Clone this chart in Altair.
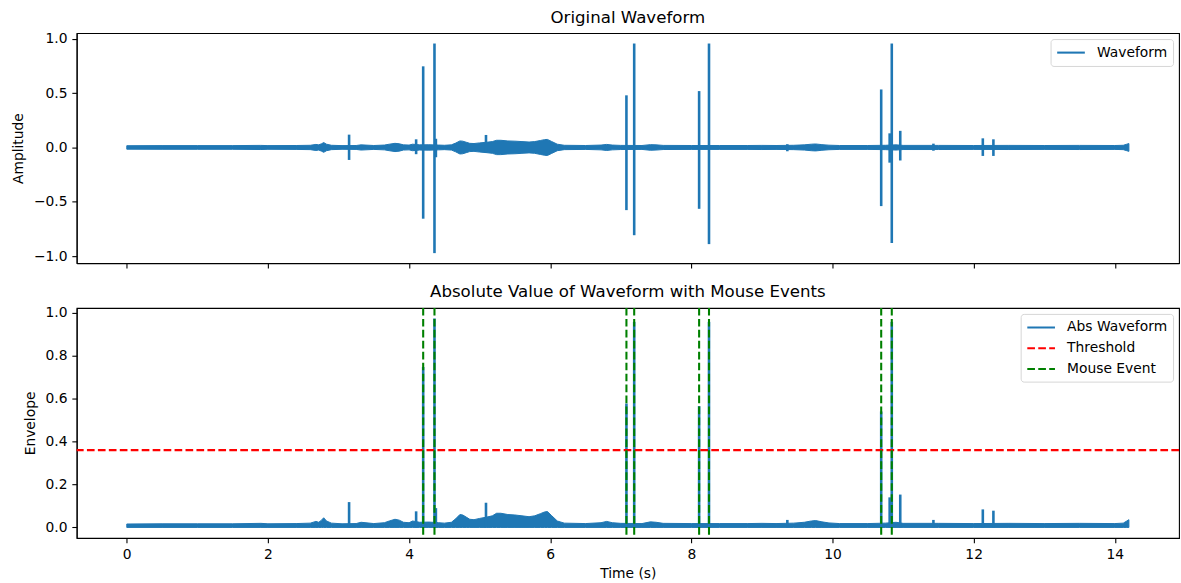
import altair as alt
import pandas as pd

BLUE = "#1f77b4"
FONT = "DejaVu Sans"

# background envelope of the recording: time (s) and half-width of the noise band
env_t = [0.00, 0.50, 1.00, 1.50, 1.90, 2.00, 2.40, 2.60, 2.68, 2.72,
         2.76, 2.79, 2.83, 2.90, 3.05, 3.25, 3.32, 3.50, 3.65, 3.72,
         3.80, 3.86, 3.92, 4.00, 4.05, 4.15, 4.28, 4.42, 4.50, 4.60,
         4.66, 4.72, 4.76, 4.81, 4.86, 4.92, 5.00, 5.10, 5.18, 5.24,
         5.30, 5.40, 5.50, 5.60, 5.70, 5.78, 5.86, 5.92, 5.96, 6.02,
         6.10, 6.20, 6.50, 6.72, 6.80, 6.88, 7.00, 7.30, 7.42, 7.50,
         7.60, 8.00, 8.40, 8.80, 9.00, 9.20, 9.45, 9.60, 9.70, 9.76,
         9.85, 9.95, 10.10, 10.50, 10.75, 10.90, 11.00, 11.50, 12.00, 12.50,
         13.00, 13.50, 14.00, 14.12, 14.17, 14.20]
env_a = [0.016, 0.017, 0.017, 0.017, 0.019, 0.017, 0.018, 0.020, 0.028, 0.024,
         0.034, 0.045, 0.030, 0.020, 0.017, 0.018, 0.024, 0.018, 0.022, 0.030,
         0.038, 0.034, 0.024, 0.022, 0.030, 0.024, 0.025, 0.022, 0.020, 0.024,
         0.040, 0.060, 0.058, 0.048, 0.038, 0.036, 0.042, 0.048, 0.054, 0.066,
         0.066, 0.060, 0.058, 0.054, 0.050, 0.054, 0.064, 0.072, 0.074, 0.055,
         0.030, 0.020, 0.018, 0.022, 0.028, 0.022, 0.019, 0.018, 0.026, 0.024,
         0.019, 0.018, 0.018, 0.018, 0.019, 0.018, 0.020, 0.024, 0.030, 0.032,
         0.026, 0.021, 0.018, 0.018, 0.020, 0.024, 0.019, 0.019, 0.018, 0.019,
         0.018, 0.019, 0.018, 0.020, 0.030, 0.036]

# short bursts (clicks): time, positive peak, negative peak
spike_t = [3.15, 4.10, 4.20, 4.36, 4.38, 5.09, 7.08, 7.19, 8.11, 8.25,
           9.36, 10.69, 10.81, 10.84, 10.96, 11.43, 12.13, 12.28]
spike_hi = [0.118, 0.075, 0.747, 0.957, 0.080, 0.115, 0.480, 0.957, 0.519, 0.957,
            0.030, 0.534, 0.130, 0.957, 0.153, 0.035, 0.084, 0.075]
spike_lo = [-0.115, -0.062, -0.656, -0.973, -0.090, -0.050, -0.577, -0.808, -0.565, -0.890,
            -0.035, -0.540, -0.140, -0.880, -0.120, -0.030, -0.078, -0.078]

event_t = [4.20, 4.36, 7.08, 7.19, 8.11, 8.25, 10.69, 10.84]
threshold = [0.36]

x_ticks = [0, 2, 4, 6, 8, 10, 12, 14]
amp_ticks = [-1.0, -0.5, 0.0, 0.5, 1.0]
env_ticks = [0.0, 0.2, 0.4, 0.6, 0.8, 1.0]
legend_top = ["Waveform"]
legend_bottom = ["Abs Waveform", "Threshold", "Mouse Event"]

env_df = pd.DataFrame({"t": env_t, "hi": env_a})
env_df["lo"] = -env_df["hi"]
env_df["zero"] = 0.0
spk_df = pd.DataFrame({"t": spike_t, "hi": spike_hi, "lo": spike_lo})
spk_df["abs"] = [max(h, -l) for h, l in zip(spike_hi, spike_lo)]
spk_df["zero"] = 0.0
spk_df["series"] = legend_top[0]
thr_df = pd.DataFrame({"y": threshold, "series": ["Threshold"]})
evt_df = pd.DataFrame({"t": event_t, "series": ["Mouse Event"] * len(event_t)})

x_scale = alt.Scale(domain=[-0.71, 14.91], nice=False, zero=False)
minus_fmt = "replace(format(datum.value, '.1f'), '-', '\u2212')"

leg = dict(title=None, orient="top-right", offset=6, padding=5.6,
           strokeColor="#d6d6d6", fillColor="rgba(255,255,255,0.8)", cornerRadius=3,
           labelFont=FONT, labelFontSize=13.9, labelColor="black",
           symbolType="M-1,0H3", symbolSize=193, symbolStrokeWidth=2.08,
           labelOffset=25, rowPadding=5.9)

# ---------- top panel ----------
x_top = alt.X("t:Q", scale=x_scale,
              axis=alt.Axis(values=x_ticks, labels=False, title=None))
y_top_scale = alt.Scale(domain=[-1.065, 1.053], nice=False, zero=False)
top_area = alt.Chart(env_df).mark_area(color=BLUE, stroke=BLUE, strokeWidth=1).encode(
    x=x_top,
    y=alt.Y("lo:Q", scale=y_top_scale,
            axis=alt.Axis(values=amp_ticks, labelExpr=minus_fmt, title="Amplitude",
                          titleX=-54.7, titleBaseline="alphabetic")),
    y2="hi:Q",
)
top_spikes = alt.Chart(spk_df).mark_rule(strokeWidth=2.6).encode(
    x=alt.X("t:Q", scale=x_scale),
    y=alt.Y("lo:Q", scale=y_top_scale),
    y2="hi:Q",
    color=alt.Color("series:N", scale=alt.Scale(domain=legend_top, range=[BLUE]),
                    legend=alt.Legend(**leg)),
)
top = alt.layer(top_area, top_spikes).properties(
    width=1107, height=231, title="Original Waveform")

# ---------- bottom panel ----------
x_bot = alt.X("t:Q", scale=x_scale,
              axis=alt.Axis(values=x_ticks, format="d", title="Time (s)", titleY=40,
                            titleBaseline="alphabetic"))
y_bot_scale = alt.Scale(domain=[-0.049, 1.022], nice=False, zero=False)
color_bot = alt.Color("series:N",
                      scale=alt.Scale(domain=legend_bottom, range=[BLUE, "#ff0000", "#008000"]),
                      legend=alt.Legend(**leg))
dash_bot = alt.StrokeDash("series:N",
                          scale=alt.Scale(domain=legend_bottom,
                                          range=[[1, 0], [7.7, 3.3], [7.7, 3.3]]),
                          legend=alt.Legend(**leg))
bot_area = alt.Chart(env_df).mark_area(color=BLUE, stroke=BLUE, strokeWidth=1).encode(
    x=x_bot,
    y=alt.Y("zero:Q", scale=y_bot_scale,
            axis=alt.Axis(values=env_ticks, labelExpr=minus_fmt, title="Envelope",
                          titleX=-42.7, titleBaseline="alphabetic")),
    y2="hi:Q",
)
bot_spikes = alt.Chart(spk_df).mark_rule(strokeWidth=2.6, color=BLUE).encode(
    x=alt.X("t:Q", scale=x_scale),
    y=alt.Y("zero:Q", scale=y_bot_scale),
    y2="abs:Q",
)
thr_rule = alt.Chart(thr_df).mark_rule(strokeWidth=2.08).encode(
    y=alt.Y("y:Q", scale=y_bot_scale),
    color=color_bot,
    strokeDash=dash_bot,
)
evt_rule = alt.Chart(evt_df).mark_rule(strokeWidth=2.08).encode(
    x=alt.X("t:Q", scale=x_scale),
    color=color_bot,
    strokeDash=dash_bot,
)
bottom = alt.layer(bot_area, bot_spikes, thr_rule, evt_rule).properties(
    width=1107, height=231, title="Absolute Value of Waveform with Mouse Events")

chart = (
    alt.vconcat(top, bottom, spacing=45, bounds="flush")
    .resolve_scale(color="independent", strokeDash="independent")
    .resolve_legend(color="independent", strokeDash="independent")
    .properties(padding={"left": 10, "top": 8, "right": 0, "bottom": 0})
    .configure(font=FONT)
    .configure_view(stroke="black", strokeWidth=1.1)
    .configure_axis(domainColor="black", domainWidth=1.1, tickColor="black",
                    tickWidth=1.1, tickSize=4.86, labelPadding=4.86,
                    labelFont=FONT, labelFontSize=13.9, labelColor="black",
                    titleFont=FONT, titleFontSize=13.9, titleColor="black",
                    titleFontWeight="normal", grid=False, labelFlush=False)
    .configure_title(font=FONT, fontSize=16.7, fontWeight="normal", color="black",
                     anchor="middle", offset=5.3, baseline="alphabetic")
)

chart.save("out.html", embed_options={"renderer": "svg", "actions": False})
